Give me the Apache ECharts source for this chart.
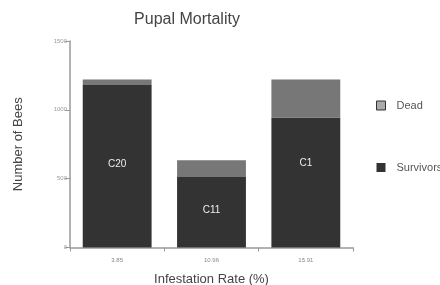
<!DOCTYPE html>
<html><head><meta charset="utf-8">
<script src="https://cdn.jsdelivr.net/npm/echarts@6/dist/echarts.min.js"></script>
<style>html,body{margin:0;padding:0;background:#fff}#c{width:440px;height:285px}</style>
</head><body><div id="c"></div>
<script>
const categories = ['3.85', '10.96', '15.91'];
const colonies = ['C20', 'C11', 'C1'];
const survivors = [1180, 513, 944];
const dead = [40, 121, 276];
const yTicks = [0, 500, 1000, 1500];

const chart = echarts.init(document.getElementById('c'));
chart.setOption({
  animation: false,
  title: { text: 'Pupal Mortality', left: 182, top: 7, textAlign: 'center',
    textStyle: { fontFamily: 'Liberation Sans', fontSize: 16, fontWeight: 'normal', color: '#444' } },
  legend: {
    orient: 'vertical', left: 371, top: 95, itemGap: 51, itemWidth: 9, itemHeight: 9,
    icon: 'rect',
    textStyle: { fontFamily: 'Liberation Sans', fontSize: 11, color: '#555', padding: [0, 0, 0, 6] },
    data: [
      { name: 'Dead', itemStyle: { color: '#aaa', borderColor: '#333', borderWidth: 1 } },
      { name: 'Survivors', itemStyle: { color: '#333' } }
    ]
  },
  grid: { left: 70, right: 87, top: 41, bottom: 37.5, containLabel: false, outerBoundsMode: 'none' },
  xAxis: {
    type: 'category', data: categories,
    name: 'Infestation Rate (%)', nameLocation: 'middle', nameGap: 25,
    nameTextStyle: { fontFamily: 'Liberation Sans', fontSize: 13, color: '#444' },
    axisLine: { lineStyle: { color: '#999', width: 1.5 } },
    axisTick: { show: true, length: 4, lineStyle: { color: '#999' } },
    axisLabel: { fontSize: 6, color: '#888', margin: 10 }
  },
  yAxis: {
    type: 'value', min: 0, max: 1500, interval: 500,
    name: 'Number of Bees', nameLocation: 'middle', nameGap: 45,
    nameTextStyle: { fontFamily: 'Liberation Sans', fontSize: 13, color: '#444' },
    splitLine: { show: false },
    axisLine: { show: true, lineStyle: { color: '#999', width: 1.5 } },
    axisTick: { show: true, length: 5, lineStyle: { color: '#999' } },
    axisLabel: { fontSize: 6, color: '#999', margin: 3, formatter: v => String(v) }
  },
  series: [
    { name: 'Survivors', type: 'bar', stack: 'a', barWidth: '73%',
      itemStyle: { color: '#333' },
      data: survivors.map((v, i) => ({ value: v,
        label: { show: true, position: 'inside', formatter: colonies[i], color: '#eee', fontSize: 10,
          offset: i === 2 ? [0, -19] : [0, -2] } })) },
    { name: 'Dead', type: 'bar', stack: 'a', barWidth: '73%',
      itemStyle: { color: '#777' }, data: dead }
  ]
});
</script></body></html>
